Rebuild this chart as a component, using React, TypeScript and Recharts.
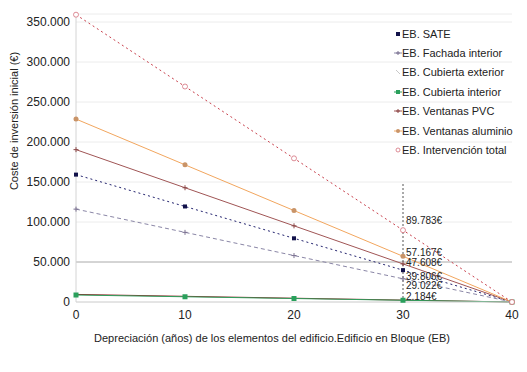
import React from "react"
import {
  LineChart,
  Line,
  XAxis,
  YAxis,
  CartesianGrid,
  ReferenceLine,
  LabelList,
} from "recharts"

const years = [0, 10, 20, 30, 40]
const sate = [159224, 119418, 79612, 39806, 0]
const fachadaInt = [116088, 87066, 58044, 29022, 0]
const cubiertaExt = [9476, 7107, 4738, 2369, 0]
const cubiertaInt = [8736, 6552, 4368, 2184, 0]
const ventanasPvc = [190432, 142824, 95216, 47608, 0]
const ventanasAlu = [228668, 171501, 114334, 57167, 0]
const total = [359132, 269349, 179566, 89783, 0]
const yTicks = [0, 50000, 100000, 150000, 200000, 250000, 300000, 350000]
const xTicks = [0, 10, 20, 30, 40]

const data = years.map((year, i) => ({
  year,
  sate: sate[i],
  fachadaInt: fachadaInt[i],
  cubiertaExt: cubiertaExt[i],
  cubiertaInt: cubiertaInt[i],
  ventanasPvc: ventanasPvc[i],
  ventanasAlu: ventanasAlu[i],
  total: total[i],
}))

const FONT = '"Liberation Sans", Arial, sans-serif'

type MarkerKind = "square" | "cross" | "none" | "dot" | "ring"

const series: {
  key: string
  name: string
  color: string
  dotColor: string
  dash?: string
  marker: MarkerKind
  size: number
  labelDy?: number
}[] = [
  { key: "cubiertaExt", name: "EB. Cubierta exterior", color: "#8e2626", dotColor: "#8e2626", marker: "none", size: 0 },
  { key: "cubiertaInt", name: "EB. Cubierta interior", color: "#2f9d5c", dotColor: "#2aa05c", marker: "square", size: 5, labelDy: -4 },
  { key: "fachadaInt", name: "EB. Fachada interior", color: "#8a86a6", dotColor: "#7a7090", dash: "4 3", marker: "cross", size: 2.5, labelDy: 7 },
  { key: "sate", name: "EB. SATE", color: "#23236e", dotColor: "#12124a", dash: "2 3", marker: "square", size: 4, labelDy: 6 },
  { key: "ventanasPvc", name: "EB. Ventanas PVC", color: "#a05555", dotColor: "#8a4646", marker: "cross", size: 2.5, labelDy: -1 },
  { key: "ventanasAlu", name: "EB. Ventanas aluminio", color: "#f2a65e", dotColor: "#c99468", marker: "dot", size: 2.5, labelDy: -4 },
  { key: "total", name: "EB. Intervención total", color: "#c8404c", dotColor: "#d4707c", dash: "2 3", marker: "ring", size: 2.5, labelDy: -10 },
]

const legendOrder = ["sate", "fachadaInt", "cubiertaExt", "cubiertaInt", "ventanasPvc", "ventanasAlu", "total"]

const fmt = (v: number) => String(Math.round(v)).replace(/\B(?=(\d{3})+(?!\d))/g, ".")

function Marker({ cx, cy, kind, size, color }: any) {
  if (cx == null || cy == null) return null
  if (kind === "square")
    return <rect x={cx - size / 2} y={cy - size / 2} width={size} height={size} fill={color} />
  if (kind === "cross")
    return (
      <g stroke={color} strokeWidth={1}>
        <line x1={cx - size} y1={cy} x2={cx + size} y2={cy} />
        <line x1={cx} y1={cy - size} x2={cx} y2={cy + size} />
      </g>
    )
  if (kind === "dot") return <circle cx={cx} cy={cy} r={size} fill={color} />
  if (kind === "ring") return <circle cx={cx} cy={cy} r={size} fill="#fff" stroke={color} strokeWidth={0.8} />
  return <g />
}

function CustomLegend() {
  return (
    <div
      style={{
        position: "absolute",
        left: 393,
        top: 24,
        fontFamily: FONT,
        fontSize: 11,
        color: "#222",
      }}
    >
      {legendOrder.map((k) => {
        const s = series.find((x) => x.key === k)!
        return (
          <div key={k} style={{ display: "flex", alignItems: "center", height: 19.4 }}>
            <svg width={9} height={10}>
              {k === "cubiertaExt" ? (
                <line x1={3} y1={3} x2={7} y2={7} stroke="#c8c8c8" strokeWidth={1} />
              ) : (
                <>
                  {k !== "sate" && k !== "total" ? (
                    <line x1={1} y1={5} x2={9} y2={5} stroke={s.color} strokeWidth={1} />
                  ) : null}
                  <Marker cx={5} cy={5} kind={s.marker} size={s.marker === "square" ? 4 : 2} color={s.dotColor} />
                </>
              )}
            </svg>
            <span>{s.name}</span>
          </div>
        )
      })}
    </div>
  )
}

export default function App() {
  return (
    <div style={{ position: "absolute", left: 0, top: 0, width: 527, height: 372, background: "#fff" }}>
      <LineChart
        width={527}
        height={372}
        data={data}
        margin={{ top: 14, right: 15, bottom: 40, left: 20 }}
      >
        <CartesianGrid horizontal vertical={false} stroke="#ececec" />
        <XAxis
          dataKey="year"
          type="number"
          domain={[0, 40]}
          ticks={xTicks}
          tickLine={false}
          tickSize={6}
          tickMargin={2}
          height={30}
          axisLine={{ stroke: "#d4d4d4" }}
          tick={{ fill: "#222", fontSize: 12, fontFamily: FONT }}
          label={{
            content: ({ viewBox }: any) => (
              <text
                x={viewBox.x + viewBox.width / 2 - 22}
                y={viewBox.y + viewBox.height + 10}
                textAnchor="middle"
                fontSize={11}
                fontFamily={FONT}
                fill="#222"
              >
                Depreciación (años) de los elementos del edificio.Edificio en Bloque (EB)
              </text>
            ),
          }}
        />
        <YAxis
          type="number"
          domain={[0, 360000]}
          ticks={yTicks}
          tickFormatter={fmt}
          width={56}
          tickLine={false}
          tickSize={4}
          tickMargin={2}
          axisLine={{ stroke: "#d4d4d4" }}
          tick={{ fill: "#222", fontSize: 12, fontFamily: FONT }}
          label={{
            content: ({ viewBox }: any) => (
              <text
                x={14}
                y={viewBox.y + viewBox.height / 2 - 37}
                transform={`rotate(-90 14 ${viewBox.y + viewBox.height / 2 - 37})`}
                textAnchor="middle"
                dominantBaseline="central"
                fontSize={11}
                fontFamily={FONT}
                fill="#222"
              >
                Coste de inversión inicial  (€)
              </text>
            ),
          }}
        />
        <ReferenceLine y={50000} stroke="#b4b4b4" />
        <ReferenceLine
          segment={[
            { x: 30, y: 0 },
            { x: 30, y: 148000 },
          ]}
          stroke="#555"
          strokeDasharray="2 2"
        />
        {series.map((s) => (
          <Line
            key={s.key}
            dataKey={s.key}
            name={s.name}
            stroke={s.color}
            strokeWidth={1}
            strokeDasharray={s.dash}
            isAnimationActive={false}
            dot={(p: any) => <Marker key={p.index} cx={p.cx} cy={p.cy} kind={s.marker} size={s.size} color={s.dotColor} />}
            activeDot={false}
          >
            {s.labelDy !== undefined ? (
              <LabelList
                dataKey={s.key}
                content={(p: any) =>
                  p.index === 3 ? (
                    <text
                      x={p.x + 3}
                      y={p.y + s.labelDy!}
                      dominantBaseline="central"
                      fontSize={10}
                      fontFamily={FONT}
                      fill="#222"
                    >
                      {fmt(p.value)}€
                    </text>
                  ) : null
                }
              />
            ) : null}
          </Line>
        ))}
      </LineChart>
      <CustomLegend />
    </div>
  )
}
